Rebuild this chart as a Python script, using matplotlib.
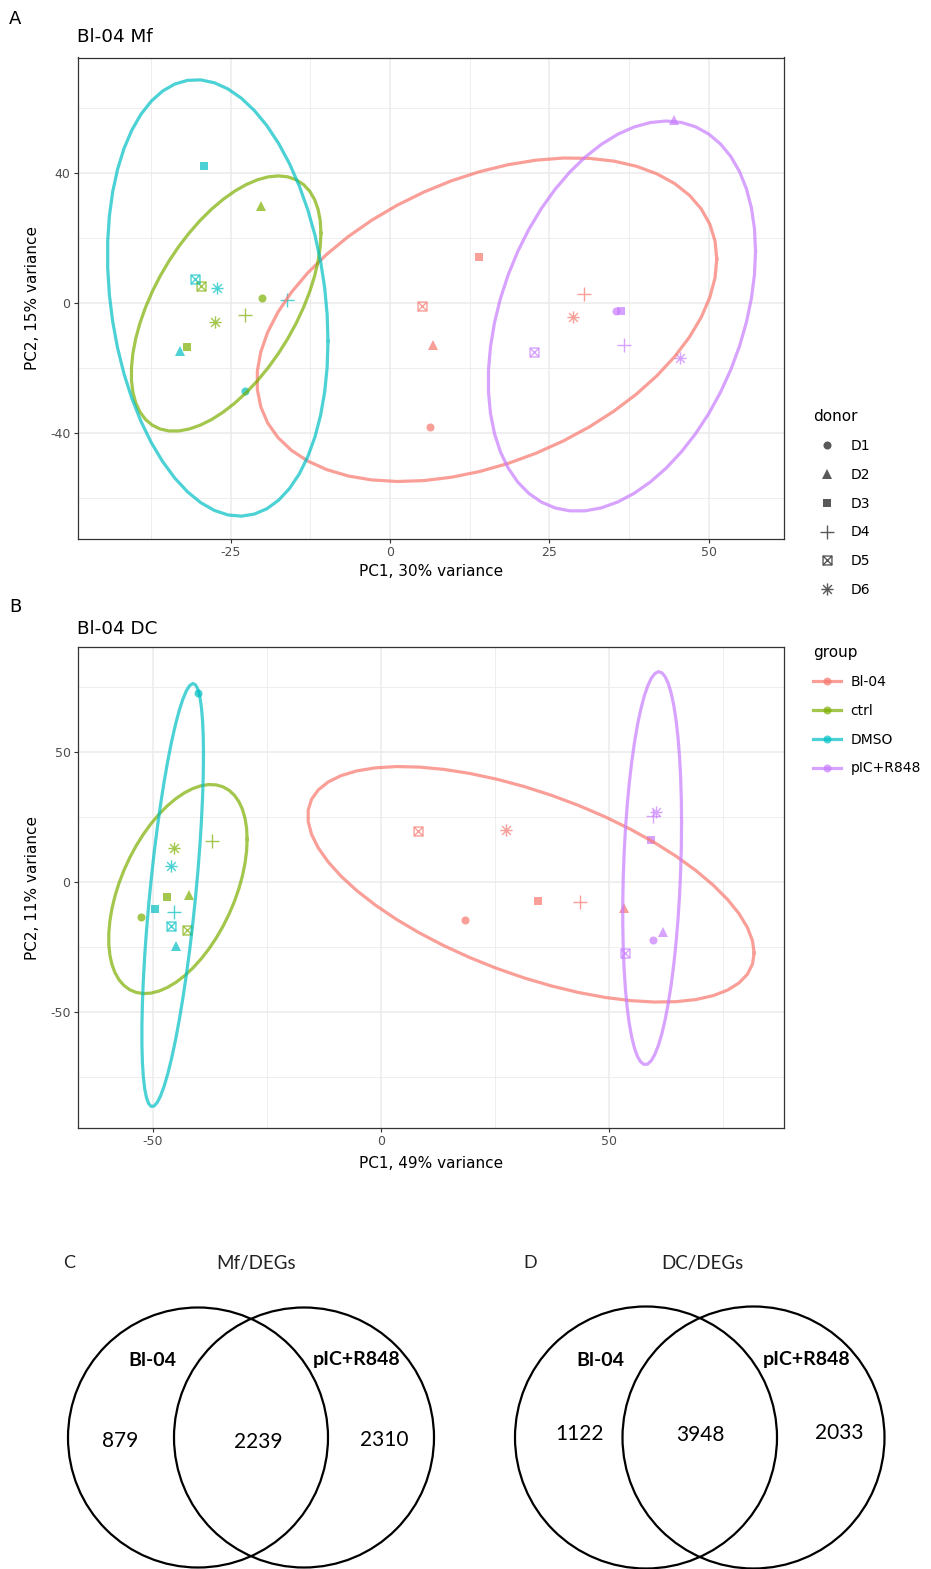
import numpy as np
import matplotlib
matplotlib.use('Agg')
import matplotlib.pyplot as plt
from matplotlib.path import Path
from matplotlib.lines import Line2D
from matplotlib.patches import Circle

plt.rcParams['axes.unicode_minus'] = False

# ---- data ----
donors = ['D1', 'D2', 'D3', 'D4', 'D5', 'D6']
groups = ['Bl-04', 'ctrl', 'DMSO', 'pIC+R848']
colors = ['#F8766D', '#7CAE00', '#00BFC4', '#C77CFF']

# rows = groups, columns = donors
mf_pc1 = [[6.3, 6.7, 14.0, 30.4, 5.0, 28.7],
          [-20.1, -20.3, -31.9, -22.7, -29.6, -27.4],
          [-22.8, -33.0, -29.1, -16.1, -30.6, -27.1],
          [35.5, 44.6, 36.2, 36.7, 22.6, 45.5]]
mf_pc2 = [[-38.2, -12.7, 14.3, 3.0, -0.8, -4.1],
          [1.5, 29.9, -13.5, -3.5, 5.2, -5.9],
          [-27.1, -14.8, 42.2, 1.1, 7.6, 4.8],
          [-2.4, 56.5, -2.5, -12.9, -15.0, -16.8]]
dc_pc1 = [[18.5, 53.3, 34.4, 43.6, 8.2, 27.5],
          [-52.6, -42.1, -46.8, -37.0, -42.6, -45.4],
          [-40.1, -45.0, -49.4, -45.3, -46.1, -45.9],
          [59.6, 61.8, 59.2, 59.6, 53.5, 60.3]]
dc_pc2 = [[-14.8, -10.0, -7.3, -7.8, 19.5, 19.9],
          [-13.6, -5.2, -5.8, 15.7, -18.6, 13.1],
          [72.8, -24.7, -10.6, -11.8, -16.9, 6.0],
          [-22.2, -19.2, 16.2, 25.4, -27.5, 26.9]]

mf_venn = [879, 2239, 2310]
dc_venn = [1122, 3948, 2033]

W, H = 931, 1569


def fx(x):
    return x / W


def fy(y):
    return 1 - y / H


# ggplot-like point shapes
box_x = Path([(-1, -1), (1, -1), (1, 1), (-1, 1), (-1, -1), (1, 1), (-1, 1), (1, -1)],
             [1, 2, 2, 2, 2, 2, 1, 2])
c = 0.72
aster = Path([(-1, 0), (1, 0), (0, -1), (0, 1), (-c, -c), (c, c), (-c, c), (c, -c)],
             [1, 2, 1, 2, 1, 2, 1, 2])
shapes = [dict(marker='o', ms=5.8, filled=True),
          dict(marker='^', ms=6.6, filled=True),
          dict(marker='s', ms=5.6, filled=True),
          dict(marker='+', ms=9.5, filled=False),
          dict(marker=box_x, ms=6.4, filled=False),
          dict(marker=aster, ms=8.8, filled=False)]


def cov_trob(x, nu=5, maxit=25, tol=0.01):
    # port of MASS::cov.trob, used by stat_ellipse(type = "t")
    n, p = x.shape
    wt = np.ones(n)
    loc = x.mean(axis=0)
    w = np.sqrt(wt)
    for _ in range(maxit):
        w0 = w
        X = x - loc
        sw = np.sqrt(w / w.sum())
        _, d, vt = np.linalg.svd(sw[:, None] * X, full_matrices=False)
        wX = X @ vt.T @ np.diag(1 / d)
        Q = (wX ** 2).sum(axis=1)
        w = wt * (nu + p) / (nu + Q)
        loc = (w[:, None] * x).sum(axis=0) / w.sum()
        if np.all(np.abs(w - w0) < tol):
            break
    sX = np.sqrt(w)[:, None] * X
    return sX.T @ sX / wt.sum(), loc


def ellipse(xs, ys, level=0.95, segments=51):
    pts = np.column_stack([xs, ys])
    cov, center = cov_trob(pts)
    dfd = len(xs) - 1
    qf = dfd / 2 * ((1 - level) ** (-2 / dfd) - 1)  # qf(level, 2, dfd)
    radius = np.sqrt(2 * qf)
    ang = np.arange(segments + 1) * 2 * np.pi / segments
    circ = np.column_stack([np.cos(ang), np.sin(ang)])
    R = np.linalg.cholesky(cov).T
    e = center + radius * circ @ R
    return e[:, 0], e[:, 1]


def pca_panel(ax, pc1, pc2, xlim, ylim, xmaj, xmin, ymaj, ymin, xlab, ylab):
    for gi, col in enumerate(colors):
        for di in range(len(donors)):
            s = shapes[di]
            ax.plot(pc1[gi][di], pc2[gi][di], linestyle='none', marker=s['marker'],
                    ms=s['ms'], color=col, alpha=0.7, mew=1.0 if not s['filled'] else 0,
                    mfc=col if s['filled'] else 'none', zorder=3)
        ex, ey = ellipse(pc1[gi], pc2[gi])
        ax.plot(ex, ey, color=col, lw=2.3, alpha=0.7, zorder=4)
    ax.set_xlim(*xlim)
    ax.set_ylim(*ylim)
    ax.set_xticks(xmaj)
    ax.set_xticks(xmin, minor=True)
    ax.set_yticks(ymaj)
    ax.set_yticks(ymin, minor=True)
    ax.grid(True, which='major', color='#EBEBEB', lw=1.1, zorder=0)
    ax.grid(True, which='minor', color='#EBEBEB', lw=0.6, zorder=0)
    ax.set_axisbelow(True)
    ax.tick_params(which='major', length=3, width=0.8, color='#333333',
                   labelsize=9, labelcolor='#4D4D4D', pad=2)
    ax.tick_params(which='minor', length=0)
    for sp in ax.spines.values():
        sp.set_color('#333333')
        sp.set_linewidth(0.9)
    ax.set_xlabel(xlab, fontsize=11)
    ax.set_ylabel(ylab, fontsize=11)


fig = plt.figure(figsize=(W / 100, H / 100), dpi=100)

# panel A
axA = fig.add_axes([fx(77.5), fy(539), fx(784) - fx(77.5), fy(57.5) - fy(539)])
pca_panel(axA, mf_pc1, mf_pc2, (-49.0, 61.8), (-72.5, 75.6),
          [-25, 0, 25, 50], [-37.5, -12.5, 12.5, 37.5], [-40, 0, 40], [-60, -20, 20, 60],
          'PC1, 30% variance', 'PC2, 15% variance')
axA.xaxis.set_label_coords(0.5, -(571 - 539) / (539 - 57.5))
axA.xaxis.label.set_va('center')
axA.yaxis.set_label_coords(-(77.5 - 33) / (784 - 77.5), 0.5)
axA.yaxis.label.set_va('center')

# panel B
axB = fig.add_axes([fx(77.5), fy(1128), fx(784) - fx(77.5), fy(647) - fy(1128)])
pca_panel(axB, dc_pc1, dc_pc2, (-66.5, 88.4), (-94.7, 90.3),
          [-50, 0, 50], [-25, 25, 75], [-50, 0, 50], [-75, -25, 25, 75],
          'PC1, 49% variance', 'PC2, 11% variance')
axB.xaxis.set_label_coords(0.5, -(1163 - 1128) / (1128 - 647))
axB.xaxis.label.set_va('center')
axB.yaxis.set_label_coords(-(77.5 - 33) / (784 - 77.5), 0.5)
axB.yaxis.label.set_va('center')

fig.text(fx(9), fy(19), 'A', fontsize=13, va='center', ha='left')
fig.text(fx(77), fy(37), 'Bl-04 Mf', fontsize=13.2, va='center', ha='left')
fig.text(fx(9), fy(607), 'B', fontsize=13, va='center', ha='left')
fig.text(fx(77), fy(629), 'Bl-04 DC', fontsize=13.2, va='center', ha='left')

# legends
donor_handles = []
for di, d in enumerate(donors):
    s = shapes[di]
    donor_handles.append(Line2D([], [], linestyle='none', marker=s['marker'], ms=s['ms'],
                                color='black', alpha=0.65,
                                mfc='black' if s['filled'] else 'none',
                                mew=0 if s['filled'] else 1.0, label=d))
leg1 = fig.legend(handles=donor_handles, title='donor', loc='upper left',
                  bbox_to_anchor=(fx(813), fy(409)), frameon=False, fontsize=10,
                  title_fontsize=11, borderpad=0, borderaxespad=0, handlelength=2.0,
                  handletextpad=0.7, labelspacing=1.07, alignment='left')

group_handles = [Line2D([], [], color=col, lw=2.3, alpha=0.7, marker='o', ms=5.8,
                        mew=0, label=g) for g, col in zip(groups, colors)]
leg2 = fig.legend(handles=group_handles, title='group', loc='upper left',
                  bbox_to_anchor=(fx(813), fy(645)), frameon=False, fontsize=10,
                  title_fontsize=11, borderpad=0, borderaxespad=0, handlelength=2.0,
                  handletextpad=0.7, labelspacing=1.07, alignment='left')

# Venn diagrams (bottom), drawn in pixel coordinates
axV = fig.add_axes([0, 0, 1, fy(1240)])
axV.set_xlim(0, W)
axV.set_ylim(H, 1240)
axV.axis('off')

vfont = 'Lato'


def venn(cx1, cx2, cy, r, counts, letter, lx, title, tx, nxs, nys):
    for cx in (cx1, cx2):
        axV.add_patch(Circle((cx, cy), r, fill=False, ec='black', lw=1.6))
    axV.text(lx, 1263, letter, fontsize=13, family=vfont, ha='center', va='center', color='#222222')
    axV.text(tx, 1263, title, fontsize=13.5, family=vfont, ha='center', va='center', color='#222222')
    axV.text(cx1 - 46, 1360, 'Bl-04', fontsize=14, family=vfont, weight='bold',
             ha='center', va='center')
    axV.text(cx2 + 53, 1360, 'pIC+R848', fontsize=14, family=vfont, weight='bold',
             ha='center', va='center')
    for n, x, y in zip(counts, nxs, nys):
        axV.text(x, y, str(n), fontsize=15, family=vfont, ha='center', va='center')


venn(198, 304, 1437.5, 130, mf_venn, 'C', 69, 'Mf/DEGs', 256,
     [120, 258, 384], [1441, 1442, 1440])
venn(646, 753.5, 1437.5, 131, dc_venn, 'D', 530, 'DC/DEGs', 702,
     [580, 700, 839], [1434, 1435, 1433])

fig.savefig('out.png', dpi=100)
